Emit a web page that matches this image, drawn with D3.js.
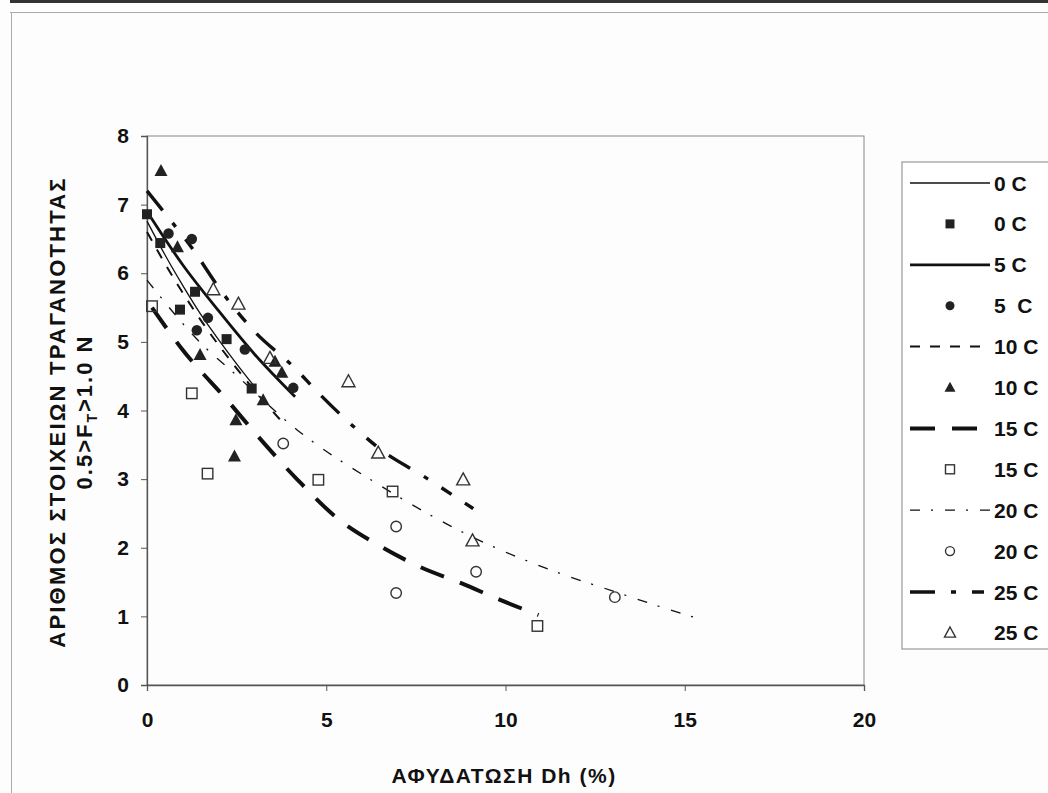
<!DOCTYPE html>
<html>
<head>
<meta charset="utf-8">
<script src="https://cdn.jsdelivr.net/npm/d3@7"></script>
<style>
  html, body { margin: 0; padding: 0; background: #fdfdfd; }
  svg { display: block; }
  text { font-family: "Liberation Sans", Arial, sans-serif; font-weight: bold; fill: #111; }
</style>
</head>
<body>
<svg id="chart" width="1048" height="793"></svg>
<script>
// Measured points (Dh %, count) per temperature
const pts0C  = [[0,6.86],[0.37,6.44],[0.92,5.47],[1.34,5.73],[2.22,5.04],[2.92,4.32]];
const pts5C  = [[0.6,6.58],[1.25,6.5],[1.39,5.17],[1.7,5.35],[2.73,4.89],[4.08,4.33]];
const pts10C = [[0.39,7.49],[0.85,6.38],[1.48,4.81],[2.44,3.33],[2.48,3.86],[3.24,4.15],[3.57,4.71],[3.76,4.55]];
const pts15C = [[0.14,5.52],[1.25,4.25],[1.69,3.08],[4.78,2.99],[6.85,2.82],[10.89,0.86]];
const pts20C = [[3.8,3.52],[6.95,2.31],[6.95,1.34],[9.18,1.65],[13.05,1.28]];
const pts25C = [[1.85,5.76],[2.55,5.55],[3.43,4.76],[5.62,4.42],[6.45,3.38],[8.82,2.99],[9.08,2.1]];

// Trend curves
const fit0C  = [[0,6.76],[0.5,6.27],[1,5.82],[1.5,5.4],[2,5.03],[2.5,4.68],[2.95,4.38]];
const fit5C  = [[0,6.9],[1,6.12],[2,5.45],[3,4.82],[4.13,4.2]];
const fit10C = [[0,6.6],[0.8,5.88],[1.6,5.24],[2.4,4.68],[3.2,4.17],[3.76,3.84]];
const fit15C = [[0.14,5.5],[0.97,4.9],[2.27,4.13],[3.1,3.62],[4.2,2.99],[5.38,2.4],[6.45,2.04],[7.62,1.72],[8.78,1.48],[9.85,1.24],[10.92,1.02]];
const fit20C = [[0,5.9],[1.66,4.9],[2.31,4.6],[4.18,3.72],[6.4,2.94],[9.1,2.15],[11.5,1.63],[13.05,1.36],[14.2,1.16],[15.3,0.98]];
const fit25C = [[0,7.2],[0.46,6.9],[1.25,6.37],[2.1,5.72],[3.0,5.15],[4.08,4.64],[4.83,4.23],[5.71,3.79],[6.6,3.4],[7.66,3.06],[9.1,2.57]];

const xTicks = [0,5,10,15,20];
const yTicks = [0,1,2,3,4,5,6,7,8];
const legendLabels = ["0 C","0 C","5 C","5  C","10 C","10 C","15 C","15 C","20 C","20 C","25 C","25 C"];

const svg = d3.select("#chart");
const box = {left:147, right:864, top:136, bottom:685};

const x = d3.scaleLinear().domain([0,20]).range([box.left, box.right]);
const y = d3.scaleLinear().domain([0,8]).range([box.bottom, box.top]);

// page frame
svg.append("rect").attr("x",10).attr("y",0).attr("width",1038).attr("height",3).attr("fill","#333");
svg.append("line").attr("x1",10).attr("x2",1048).attr("y1",12.5).attr("y2",12.5).attr("stroke","#aaa").attr("stroke-width",1);
svg.append("line").attr("x1",11.5).attr("x2",11.5).attr("y1",12).attr("y2",793).attr("stroke","#aaa").attr("stroke-width",1);

// plot border
svg.append("rect").attr("x",box.left).attr("y",box.top)
  .attr("width",box.right-box.left).attr("height",box.bottom-box.top)
  .attr("fill","none").attr("stroke","#888").attr("stroke-width",1);

// axes
const xAxis = svg.append("g").attr("transform",`translate(0,${box.bottom})`)
  .call(d3.axisBottom(x).tickValues(xTicks).tickSize(6).tickPadding(21).tickFormat(d3.format("d")));
const yAxis = svg.append("g").attr("transform",`translate(${box.left},0)`)
  .call(d3.axisLeft(y).tickValues(yTicks).tickSize(6).tickPadding(12).tickFormat(d3.format("d")));
[xAxis,yAxis].forEach(a=>{
  a.select(".domain").attr("stroke","#555").attr("stroke-width",1.3);
  a.selectAll(".tick line").attr("stroke","#555");
  a.selectAll(".tick text").style("font-size","21px").style("font-family","'Liberation Sans', Arial, sans-serif")
    .style("font-weight","bold").attr("fill","#111");
});

// axis titles
svg.append("text").attr("x",504).attr("y",783)
  .attr("text-anchor","middle").style("font-size","21px").style("letter-spacing","1.5px")
  .text("ΑΦΥΔΑΤΩΣΗ Dh (%)");
const yc = 412;
svg.append("text").attr("transform",`translate(65,${yc}) rotate(-90)`)
  .attr("text-anchor","middle").style("font-size","22px").style("letter-spacing","2.2px")
  .text("ΑΡΙΘΜΟΣ ΣΤΟΙΧΕΙΩΝ ΤΡΑΓΑΝΟΤΗΤΑΣ");
const t2 = svg.append("text").attr("transform",`translate(92,${yc}) rotate(-90)`)
  .attr("text-anchor","middle").style("font-size","22px").style("letter-spacing","2px");
t2.append("tspan").text("0.5>F");
t2.append("tspan").attr("dy",5).style("font-size","14px").text("T");
t2.append("tspan").attr("dy",-5).text(">1.0 N");

// line styles
const styles = {
  c0:  {w:1.3, dash:null},
  c5:  {w:2.8, dash:null},
  c10: {w:2.0, dash:"10,10"},
  c15: {w:4.0, dash:"25,17"},
  c20: {w:1.3, dash:"10,11,2,12"},
  c25: {w:3.4, dash:"25,16,5,16,12,16"}
};

const line = d3.line().x(d=>x(d[0])).y(d=>y(d[1])).curve(d3.curveMonotoneX);
const fits = [[fit0C,"c0"],[fit5C,"c5"],[fit10C,"c10"],[fit15C,"c15"],[fit20C,"c20"],[fit25C,"c25"]];
const gl = svg.append("g");
fits.forEach(([data,k])=>{
  gl.append("path").datum(data).attr("d",line).attr("fill","none")
    .attr("stroke","#111").attr("stroke-width",styles[k].w)
    .attr("stroke-dasharray",styles[k].dash);
});

// markers
function marker(g, type, cx, cy, s) {
  const filled = type.startsWith("f");
  const fill = filled ? "#222" : "none";
  const stroke = filled ? "none" : "#333";
  if (type.endsWith("sq")) {
    g.append("rect").attr("x",cx-s/2).attr("y",cy-s/2).attr("width",s).attr("height",s)
      .attr("fill",fill).attr("stroke",stroke).attr("stroke-width",1.4);
  } else if (type.endsWith("ci")) {
    g.append("circle").attr("cx",cx).attr("cy",cy).attr("r",s/2)
      .attr("fill",fill).attr("stroke",stroke).attr("stroke-width",1.4);
  } else {
    const h = s*0.92;
    g.append("path").attr("d",`M${cx},${cy-h*0.58}L${cx+s/2},${cy+h*0.42}L${cx-s/2},${cy+h*0.42}Z`)
      .attr("fill",fill).attr("stroke",stroke).attr("stroke-width",1.4);
  }
}
const series = [[pts0C,"fsq",10],[pts5C,"fci",10.5],[pts10C,"ftr",13],[pts15C,"osq",10.5],[pts20C,"oci",10.5],[pts25C,"otr",13]];
const gm = svg.append("g");
series.forEach(([data,type,s])=>{
  data.forEach(d=>marker(gm,type,x(d[0]),y(d[1]),s));
});

// legend
const lg = svg.append("g");
lg.append("rect").attr("x",902).attr("y",162).attr("width",160).attr("height",487)
  .attr("fill","#fff").attr("stroke","#999").attr("stroke-width",1.2);
const legendItems = [
  {line:"c0"},{mk:"fsq",s:9},{line:"c5"},{mk:"fci",s:9},{line:"c10"},{mk:"ftr",s:11},
  {line:"c15"},{mk:"osq",s:9},{line:"c20"},{mk:"oci",s:9},{line:"c25"},{mk:"otr",s:11}
];
legendItems.forEach((it,i)=>{
  const cy = 183 + i*40.9;
  if (it.line) {
    lg.append("line").attr("x1",910).attr("x2",990).attr("y1",cy).attr("y2",cy)
      .attr("stroke","#111").attr("stroke-width",styles[it.line].w)
      .attr("stroke-dasharray",styles[it.line].dash);
  } else {
    marker(lg,it.mk,950,cy,it.s);
  }
  lg.append("text").attr("x",994).attr("y",cy+7.5).style("font-size","21px")
    .attr("xml:space","preserve").style("white-space","pre").text(legendLabels[i]);
});
</script>
</body>
</html>
